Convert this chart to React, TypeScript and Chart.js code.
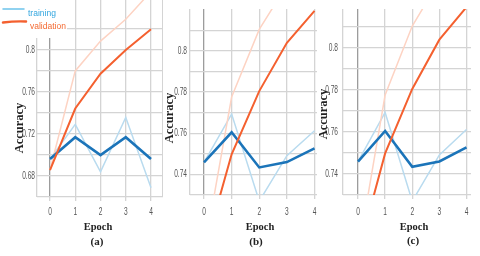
import React, { useEffect, useRef } from 'react';
import { Chart, registerables } from 'chart.js';

Chart.register(...registerables);

// ---------------- data ----------------
const EPOCHS = [0, 1, 2, 3, 4];
const X_TICK_LABELS = ['0', '1', '2', '3', '4'];

// panel (a)
const A_TRAIN_SMOOTH = [0.696, 0.7167, 0.6998, 0.7167, 0.696];
const A_TRAIN_RAW = [0.696, 0.729, 0.6838, 0.7355, 0.6688];
const A_VAL_SMOOTH = [0.6856, 0.744, 0.777, 0.7995, 0.8193];
const A_VAL_RAW = [0.6856, 0.7797, 0.808, 0.8287, 0.855];

// panel (b)
const B_TRAIN_SMOOTH = [0.7459, 0.7605, 0.7434, 0.746, 0.7527];
const B_TRAIN_RAW = [0.7459, 0.7693, 0.727, 0.7491, 0.7612];
const B_VAL_SMOOTH = [0.702, 0.7498, 0.7805, 0.804, 0.8195];
const B_VAL_RAW = [0.702, 0.7776, 0.8105, 0.832, 0.84];

// panel (c)
const C_TRAIN_SMOOTH = [0.7459, 0.7605, 0.7434, 0.746, 0.7527];
const C_TRAIN_RAW = [0.7459, 0.7693, 0.727, 0.7491, 0.7612];
const C_VAL_SMOOTH = [0.702, 0.7498, 0.7805, 0.804, 0.8195];
const C_VAL_RAW = [0.702, 0.7776, 0.8105, 0.832, 0.84];

const A_Y_GRID = [0.66, 0.68, 0.7, 0.72, 0.74, 0.76, 0.78, 0.8, 0.82];
const A_Y_LABEL_VALUES = [0.68, 0.72, 0.76, 0.8];
const A_Y_LABELS = ['0.68', '0.72', '0.76', '0.8'];

const BC_Y_GRID = [0.73, 0.74, 0.75, 0.76, 0.77, 0.78, 0.79, 0.8, 0.81];
const BC_Y_LABEL_VALUES = [0.74, 0.76, 0.78, 0.8];
const BC_Y_LABELS = ['0.74', '0.76', '0.78', '0.8'];

const LEGEND_LABELS = ['training', 'validation'];
const CAPTIONS = ['(a)', '(b)', '(c)'];
const X_TITLE = 'Epoch';
const Y_TITLE = 'Accuracy';

// ---------------- styles ----------------
const COL_TRAIN = '#1b74b9';
const COL_TRAIN_RAW = '#b9dbef';
const COL_VAL = '#f4602f';
const COL_VAL_RAW = '#fdd3c3';
const GRID = '#d4d4d4';
const ZERO_LINE = '#9c9c9c';
const TICK_FONT = "11px 'Liberation Sans', Arial, sans-serif";
const TICK_SQUEEZE = 0.6;
const SERIF = "'Liberation Serif', 'DejaVu Serif', serif";

type PanelCfg = {
  caption: string;
  canvas: { left: number; top: number; width: number; height: number };
  yAxisWidth: number;
  xAxisHeight: number;
  xMin: number;
  xMax: number;
  yMin: number;
  yMax: number;
  yGrid: number[];
  yLabelValues: number[];
  yLabels: string[];
  yGap: number;
  xLabelY: number;
  rightEdge: boolean;
  trainSmooth: number[];
  trainRaw: number[];
  valSmooth: number[];
  valRaw: number[];
  yTitle: { x: number; y: number };
  xTitle: { x: number; y: number };
  captionPos: { x: number; y: number };
  legend: boolean;
};

const PANELS: PanelCfg[] = [
  {
    caption: CAPTIONS[0],
    canvas: { left: 0, top: 0, width: 163, height: 256 },
    yAxisWidth: 37,
    xAxisHeight: 59,
    xMin: -0.515,
    xMax: 4.475,
    yMin: 0.66,
    yMax: 0.847,
    yGrid: A_Y_GRID,
    yLabelValues: A_Y_LABEL_VALUES,
    yLabels: A_Y_LABELS,
    yGap: 2,
    xLabelY: 212,
    rightEdge: true,
    trainSmooth: A_TRAIN_SMOOTH,
    trainRaw: A_TRAIN_RAW,
    valSmooth: A_VAL_SMOOTH,
    valRaw: A_VAL_RAW,
    yTitle: { x: 20, y: 128 },
    xTitle: { x: 98, y: 227.5 },
    captionPos: { x: 97, y: 242 },
    legend: true,
  },
  {
    caption: CAPTIONS[1],
    canvas: { left: 160, top: 9, width: 157, height: 247 },
    yAxisWidth: 30,
    xAxisHeight: 61,
    xMin: -0.507,
    xMax: 4.09,
    yMin: 0.73,
    yMax: 0.8204,
    yGrid: BC_Y_GRID,
    yLabelValues: BC_Y_LABEL_VALUES,
    yLabels: BC_Y_LABELS,
    yGap: 3,
    xLabelY: 212,
    rightEdge: false,
    trainSmooth: B_TRAIN_SMOOTH,
    trainRaw: B_TRAIN_RAW,
    valSmooth: B_VAL_SMOOTH,
    valRaw: B_VAL_RAW,
    yTitle: { x: 170, y: 118 },
    xTitle: { x: 260, y: 227.5 },
    captionPos: { x: 256, y: 242 },
    legend: false,
  },
  {
    caption: CAPTIONS[2],
    canvas: { left: 314, top: 9, width: 157, height: 247 },
    yAxisWidth: 29,
    xAxisHeight: 61,
    xMin: -0.553,
    xMax: 4.166,
    yMin: 0.73,
    yMax: 0.8186,
    yGrid: BC_Y_GRID,
    yLabelValues: BC_Y_LABEL_VALUES,
    yLabels: BC_Y_LABELS,
    yGap: 5,
    xLabelY: 212,
    rightEdge: false,
    trainSmooth: C_TRAIN_SMOOTH,
    trainRaw: C_TRAIN_RAW,
    valSmooth: C_VAL_SMOOTH,
    valRaw: C_VAL_RAW,
    yTitle: { x: 323.5, y: 114 },
    xTitle: { x: 414, y: 227.5 },
    captionPos: { x: 413, y: 241.5 },
    legend: false,
  },
];

const pts = (arr: number[]) => EPOCHS.map((e, i) => ({ x: e, y: arr[i] }));
const near = (a: number, b: number) => Math.abs(a - b) < 1e-6;

function squeezedText(ctx: CanvasRenderingContext2D, text: string, x: number, y: number) {
  ctx.save();
  ctx.translate(x, y);
  ctx.scale(TICK_SQUEEZE, 1);
  ctx.fillText(text, 0, 0);
  ctx.restore();
}

function Panel({ cfg }: { cfg: PanelCfg }) {
  const ref = useRef<HTMLCanvasElement | null>(null);

  useEffect(() => {
    if (!ref.current) return;
    const { left, top } = cfg.canvas;

    const decor = {
      id: 'decor',
      afterDraw(chart: any) {
        const ctx = chart.ctx as CanvasRenderingContext2D;
        const xs = chart.scales.x;
        const ys = chart.scales.y;
        const area = chart.chartArea;
        ctx.save();

        // tick labels (positions from the chart's scales)
        ctx.fillStyle = '#555';
        ctx.font = TICK_FONT;
        ctx.textBaseline = 'middle';
        ctx.textAlign = 'center';
        EPOCHS.forEach((e, i) => {
          squeezedText(ctx, X_TICK_LABELS[i], xs.getPixelForValue(e), cfg.xLabelY - top);
        });
        ctx.textAlign = 'right';
        cfg.yLabelValues.forEach((v, i) => {
          squeezedText(ctx, cfg.yLabels[i], area.left - cfg.yGap, ys.getPixelForValue(v));
        });

        // axis titles + caption
        ctx.fillStyle = '#222';
        ctx.font = `bold 12.5px ${SERIF}`;
        ctx.textAlign = 'center';
        ctx.save();
        ctx.translate(cfg.yTitle.x - left, cfg.yTitle.y - top);
        ctx.rotate(-Math.PI / 2);
        ctx.fillText(Y_TITLE, 0, 0);
        ctx.restore();
        ctx.font = `bold 10.5px ${SERIF}`;
        ctx.fillText(X_TITLE, cfg.xTitle.x - left, cfg.xTitle.y - top);
        ctx.font = `bold 11px ${SERIF}`;
        ctx.fillText(cfg.caption, cfg.captionPos.x - left, cfg.captionPos.y - top);

        // legend
        if (cfg.legend) {
          ctx.fillStyle = '#ffffff';
          ctx.fillRect(0 - left, 0 - top, 67, 38);
          ctx.lineCap = 'round';
          ctx.strokeStyle = '#6cc3ec';
          ctx.lineWidth = 1.5;
          ctx.beginPath();
          ctx.moveTo(3 - left, 9 - top);
          ctx.lineTo(24 - left, 9 - top);
          ctx.stroke();
          ctx.strokeStyle = COL_VAL;
          ctx.lineWidth = 2.5;
          ctx.beginPath();
          ctx.moveTo(3 - left, 22.5 - top);
          ctx.quadraticCurveTo(15 - left, 21 - top, 26 - left, 21.5 - top);
          ctx.stroke();
          ctx.textAlign = 'left';
          ctx.font = `8.5px 'Liberation Sans', Arial, sans-serif`;
          ctx.fillStyle = '#33a6df';
          ctx.fillText(LEGEND_LABELS[0], 28 - left, 13.5 - top);
          ctx.fillStyle = '#f46a32';
          ctx.fillText(LEGEND_LABELS[1], 30 - left, 27 - top);
        }
        ctx.restore();
      },
    };

    const chart = new Chart(ref.current, {
      type: 'line',
      data: {
        datasets: [
          { label: 'validation', data: pts(cfg.valSmooth), borderColor: COL_VAL, borderWidth: 2, clip: 0 },
          { label: 'training', data: pts(cfg.trainSmooth), borderColor: COL_TRAIN, borderWidth: 2.6, clip: 0 },
          { label: 'validation raw', data: pts(cfg.valRaw), borderColor: COL_VAL_RAW, borderWidth: 1.5, clip: 0 },
          { label: 'training raw', data: pts(cfg.trainRaw), borderColor: COL_TRAIN_RAW, borderWidth: 1.5, clip: 0 },
        ] as any,
      },
      options: {
        animation: false,
        responsive: false,
        maintainAspectRatio: false,
        layout: { padding: 0 },
        elements: { point: { radius: 0 }, line: { tension: 0, fill: false } },
        plugins: { legend: { display: false }, tooltip: { enabled: false } },
        scales: {
          x: {
            type: 'linear',
            min: cfg.xMin,
            max: cfg.xMax,
            afterBuildTicks: (axis: any) => {
              axis.ticks = [cfg.xMin, ...EPOCHS, cfg.xMax].map((v) => ({ value: v }));
            },
            afterFit: (axis: any) => {
              axis.height = cfg.xAxisHeight;
            },
            border: { display: false },
            grid: {
              lineWidth: 1.3,
              color: (c: any) => {
                const v = c.tick ? c.tick.value : NaN;
                if (near(v, 0)) return ZERO_LINE;
                if (near(v, cfg.xMax) && !cfg.rightEdge) return 'rgba(0,0,0,0)';
                return GRID;
              },
              drawTicks: true,
              tickLength: 4,
              tickColor: (c: any) => {
                const v = c.tick ? c.tick.value : NaN;
                return EPOCHS.some((e) => near(e, v)) ? GRID : 'rgba(0,0,0,0)';
              },
            },
            ticks: { display: false },
          },
          y: {
            type: 'linear',
            min: cfg.yMin,
            max: cfg.yMax,
            afterBuildTicks: (axis: any) => {
              axis.ticks = cfg.yGrid.map((v) => ({ value: v }));
            },
            afterFit: (axis: any) => {
              axis.width = cfg.yAxisWidth;
            },
            border: { display: false },
            grid: {
              lineWidth: 1.3,
              color: GRID,
              drawTicks: false,
            },
            ticks: { display: false },
          },
        },
      } as any,
      plugins: [decor],
    });
    return () => chart.destroy();
  }, [cfg]);

  const { left, top, width, height } = cfg.canvas;
  return (
    <canvas
      ref={ref}
      width={width}
      height={height}
      style={{ position: 'absolute', left, top, width, height }}
    />
  );
}

export default function App() {
  return (
    <div
      style={{
        position: 'fixed',
        left: 0,
        top: 0,
        width: 480,
        height: 256,
        background: '#ffffff',
        overflow: 'hidden',
      }}
    >
      {PANELS.map((p) => (
        <Panel key={p.caption} cfg={p} />
      ))}
    </div>
  );
}
